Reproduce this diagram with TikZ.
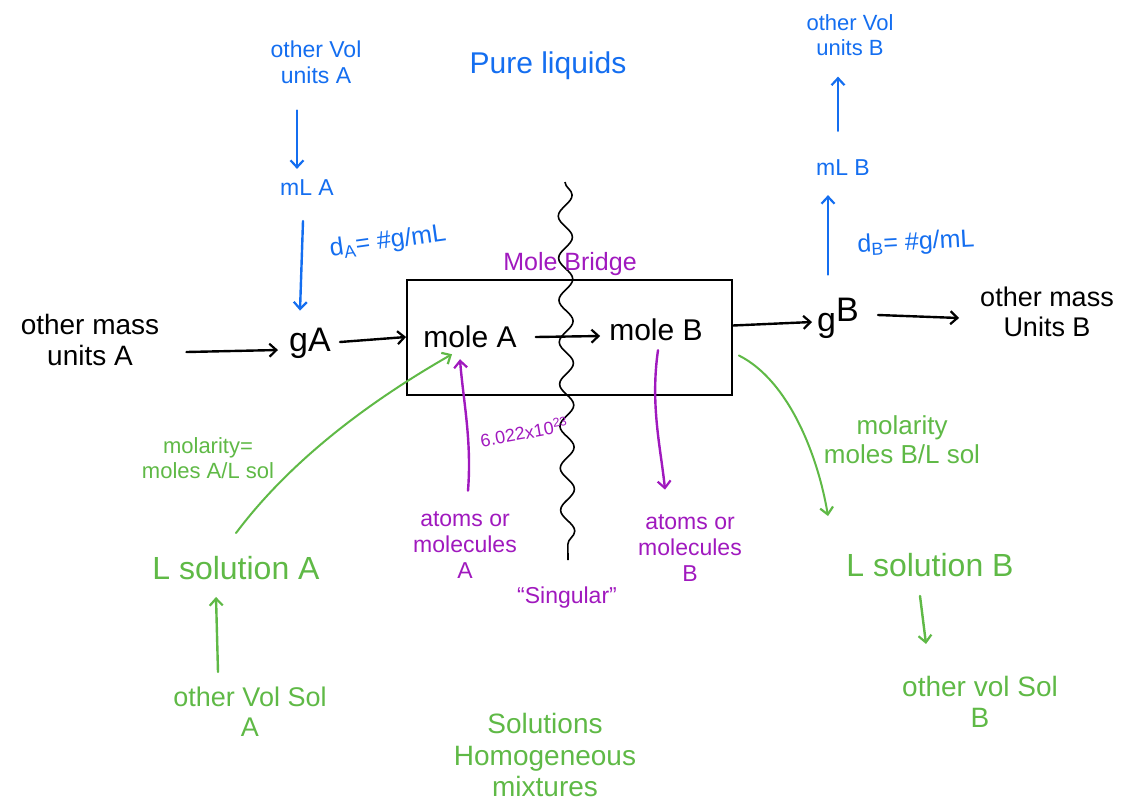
\documentclass[tikz,border=0pt]{standalone}
\usepackage{fontspec}
\setmainfont{Liberation Sans}
\usetikzlibrary{arrows.meta,decorations.pathmorphing,calc}
\definecolor{hblue}{RGB}{20,110,240}
\definecolor{hgreen}{RGB}{95,185,70}
\definecolor{hpurple}{RGB}{160,25,190}
\begin{document}
\begin{tikzpicture}[x=1pt,y=-1pt,
  txt/.style={align=center,inner sep=1pt,font={\fontsize{#1}{#1}\selectfont\setlength\baselineskip{1.12\baselineskip}}},
  txt/.default=22,
  arr/.style={-{Straight Barb[length=7pt,width=13pt,line width=2.2pt]},line width=2.4pt,line cap=round},
  bl/.style={text=hblue},
  gr/.style={text=hgreen},
  pu/.style={text=hpurple}]
\useasboundingbox (0,0) rectangle (1124,807);

% box and wavy bridge
\node[draw,line width=1.8pt,minimum width=325pt,minimum height=115pt,inner sep=0pt] (box) at (569.5,337.5) {};
\coordinate (wtop) at (565,182);
\coordinate (wbot) at (568,560);
\draw[line width=1.6pt,decorate,decoration={snake,segment length=42pt,amplitude=7pt}] (wtop) -- (wbot);

% black nodes
\node[txt=28] (omA) at (90,340) {other mass\\units A};
\node[txt=34] (gA) at (310,343) {gA};
\node[txt=30] (moleA) at (470,337) {mole A};
\node[txt=30] (moleB) at (656,330) {mole B};
\node[txt=34] (gB) at (838,318) {g\raisebox{10pt}{B}};
\node[txt=27] (omB) at (1047,312) {other mass\\Units B};

\draw[arr] ($(omA.east)+(26,12)$) -- ($(gA.west)+(-10,7)$);
\draw[arr] ($(gA.east)+(8,-1)$) -- (box.west |- moleA);
\draw[arr] ($(moleA.east)+(18,0)$) -- ($(moleB.west)+(-8,6)$);
\draw[arr] ($(box.east)+(0,-12)$) -- ($(gB.west)+(-4,4)$);
\draw[arr] ($(gB.east)+(18,-3)$) -- ($(omB.west)+(-20,6)$);

% blue
\node[txt=23,bl] (volA) at (316,62) {other Vol\\units A};
\node[txt=23,bl] (mLA) at (307,188) {mL A};
\node[txt=30,bl] (pure) at (548,66) {Pure liquids};
\node[txt=22,bl] (volB) at (850,35) {other Vol\\units B};
\node[txt=23,bl] (mLB) at (843,168) {mL B};
\node[txt=25,bl,rotate=8] (dA) at (388,242) {d\textsubscript{A}= \#g/mL};
\node[txt=25,bl,rotate=3] (dB) at (916,243) {d\textsubscript{B}= \#g/mL};

\draw[arr,hblue] ($(volA.south)+(-19,26)$) -- ($(mLA.north)+(-10,-10)$);
\draw[arr,hblue] ($(mLA.south)+(-4,24)$) -- ($(gA.north)+(-10,-16)$);
\draw[arr,hblue] ($(mLB.north)+(-5,-28)$) -- ($(volB.south)+(-12,20)$);
\draw[arr,hblue] ($(gB.north)+(-10,-22)$) -- ($(mLB.south)+(-15,18)$);

% purple
\node[txt=25,pu] (bridge) at (570,264) {Mole Bridge};
\node[txt=18,pu,rotate=10] (avog) at (524,432) {6.022x10\textsuperscript{23}};
\node[txt=23,pu] (atA) at (465,545) {atoms or\\molecules\\A};
\node[txt=23,pu] (atB) at (690,548) {atoms or\\molecules\\B};
\node[txt=23,pu] (sing) at (567,598) {“Singular”};

\draw[arr,hpurple] ($(atA.north)+(3,-20)$) .. controls +(4,-50) and +(3,40) .. ($(moleA.south)+(-10,10)$);
\draw[arr,hpurple] ($(moleB.south)+(2,8)$) .. controls +(-8,55) and +(-4,-40) .. ($(atB.north)+(-25,-24)$);

% green
\node[txt=22,gr] (molA) at (208,458) {molarity=\\moles A/L sol};
\node[txt=32,gr] (LsolA) at (236,568) {L solution A};
\node[txt=27,gr] (ovsA) at (250,712) {other Vol Sol\\A};
\node[txt=26,gr] (molB) at (902,440) {molarity\\moles B/L sol};
\node[txt=32,gr] (LsolB) at (930,565) {L solution B};
\node[txt=28,gr] (ovsB) at (980,702) {other vol Sol\\B};
\node[txt=28,gr] (solu) at (545,755) {Solutions\\Homogeneous\\mixtures};

\draw[arr,hgreen,line width=2pt] ($(LsolA.north)+(0,-22)$) .. controls +(60,-80) and +(-70,40) .. ($(moleA.south)+(-18,5)$);
\draw[arr,hgreen,line width=2pt] ($(box.east)+(6,18)$) .. controls +(50,25) and +(-10,-60) .. ($(LsolB.north)+(-102,-36)$);
\draw[arr,hgreen] ($(ovsA.north)+(-32,-14)$) -- ($(LsolA.south)+(-20,16)$);
\draw[arr,hgreen] ($(LsolB.south)+(-10,18)$) -- ($(LsolB.south)+(-4,66)$);
\end{tikzpicture}
\end{document}
